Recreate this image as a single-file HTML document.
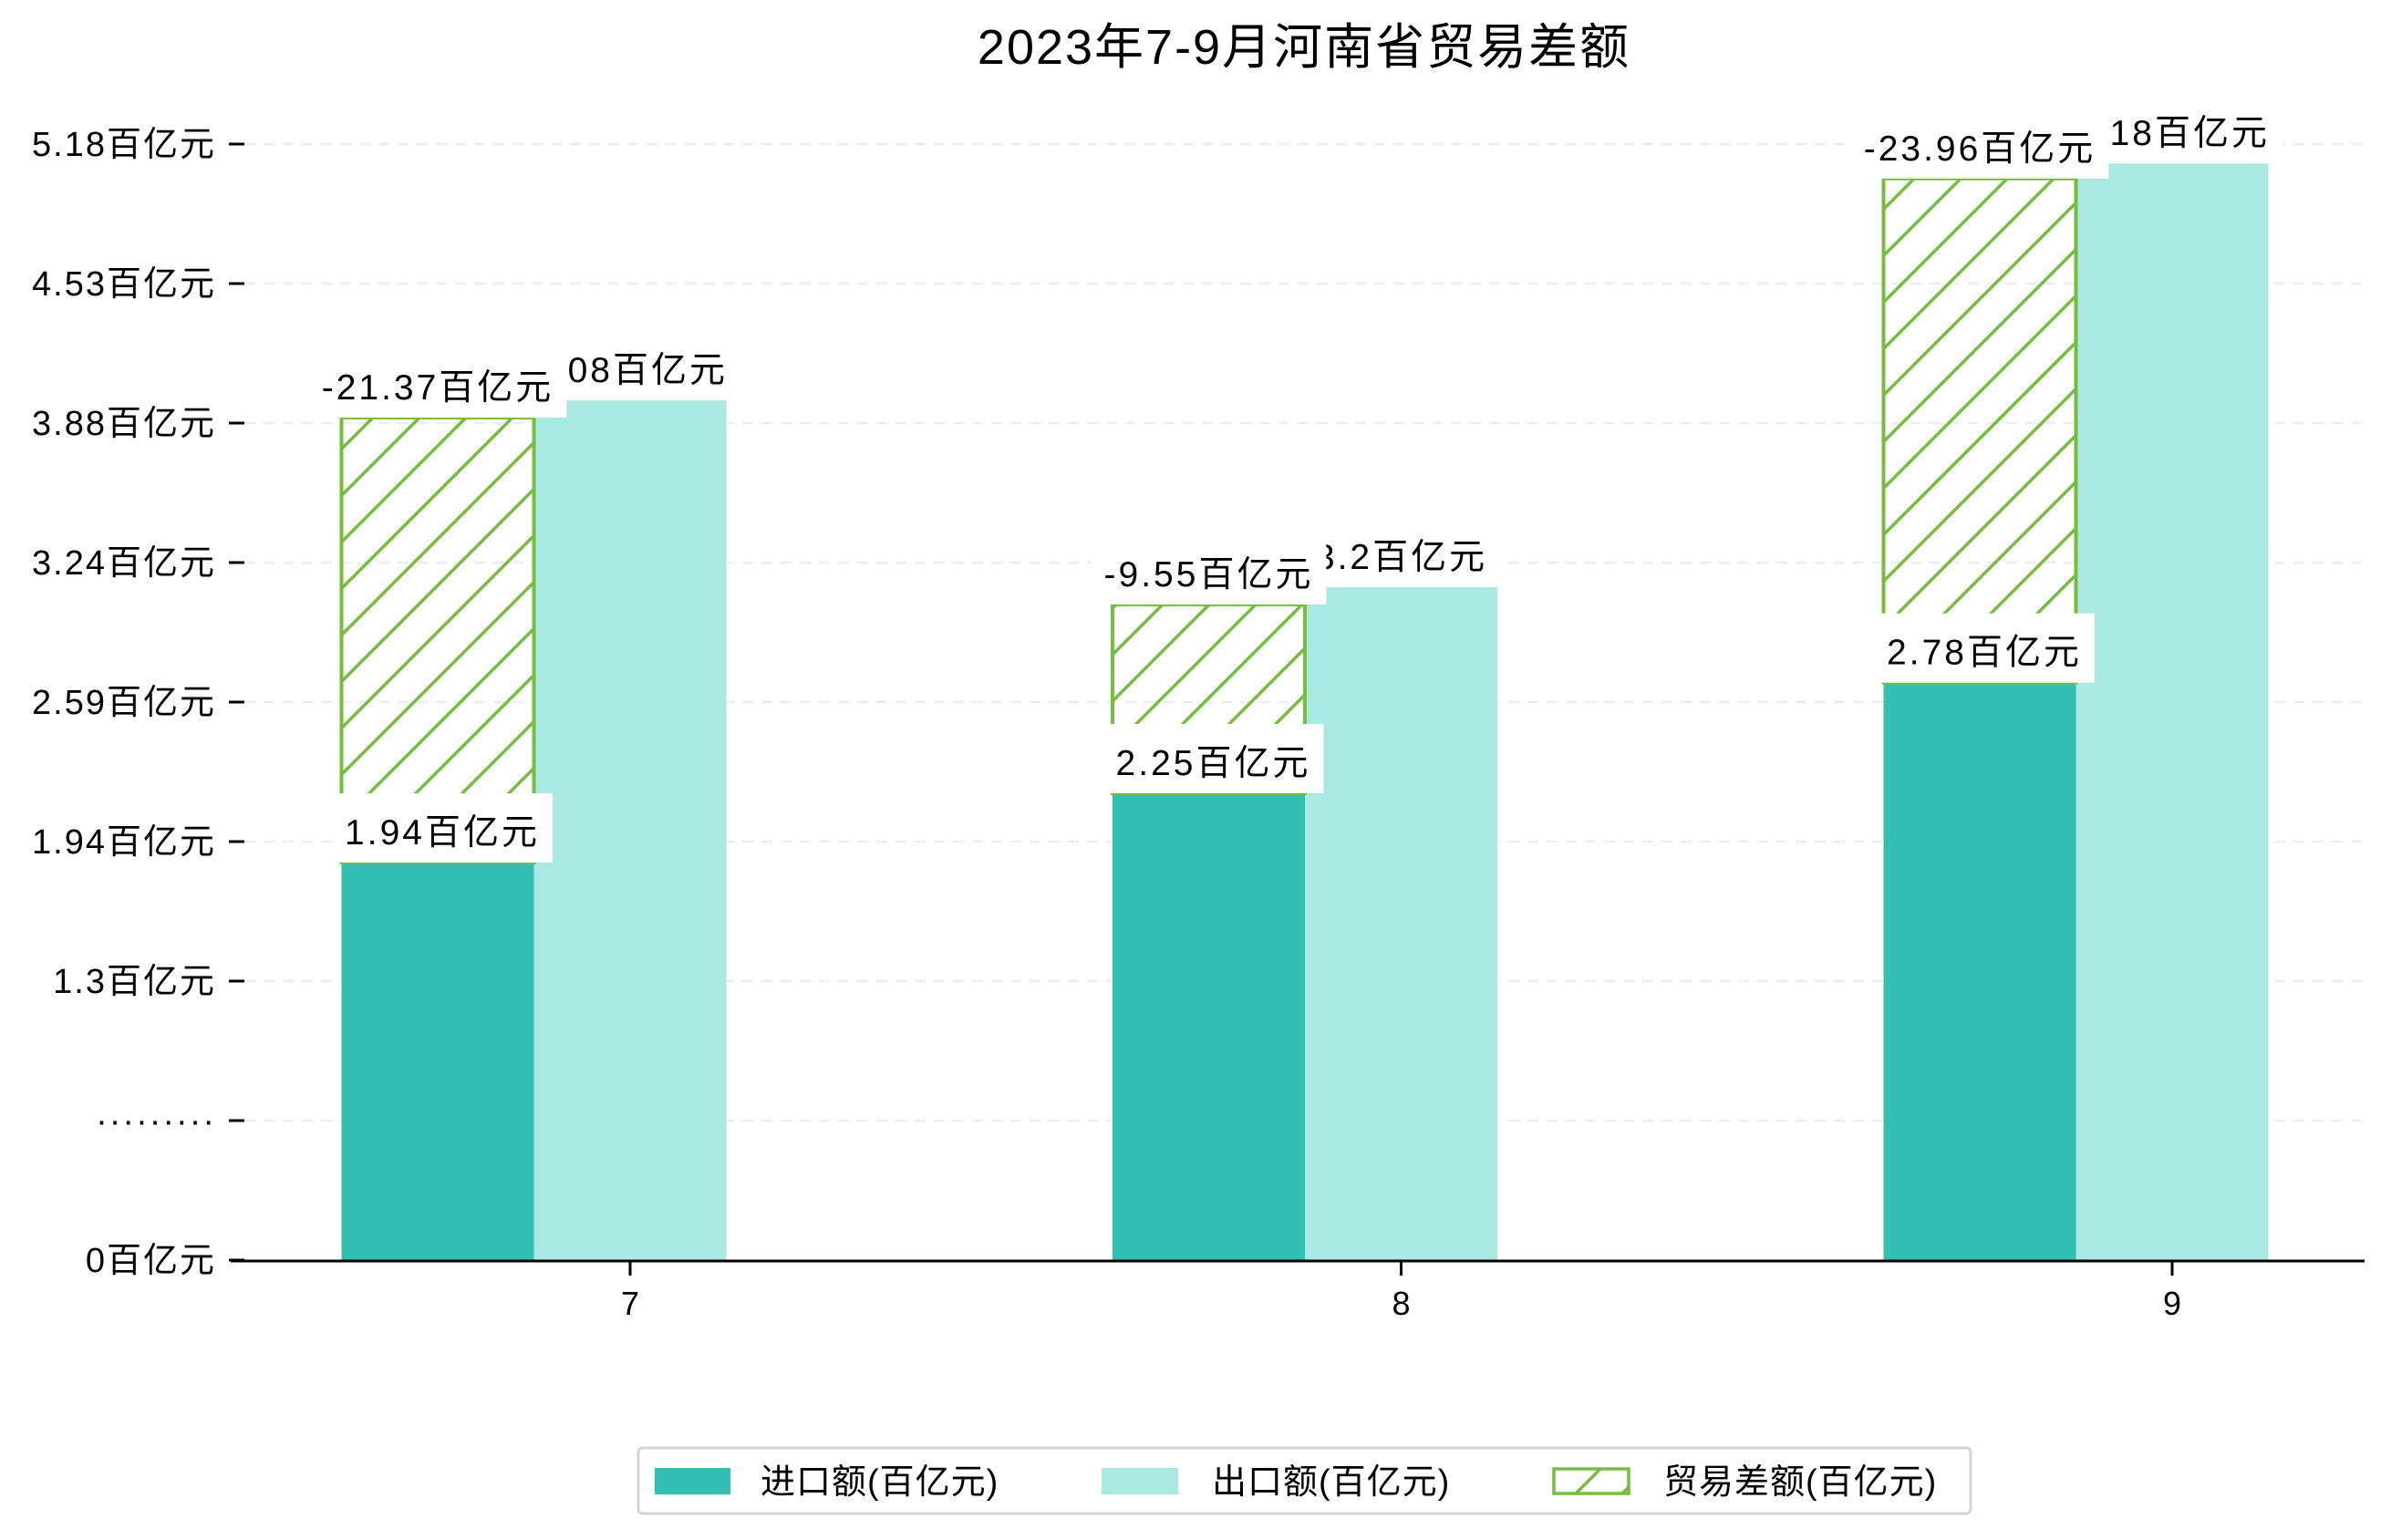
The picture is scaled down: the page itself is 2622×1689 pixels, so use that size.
<!DOCTYPE html>
<html><head><meta charset="utf-8">
<style>
html,body{margin:0;padding:0;background:#fff;}
svg{display:block;font-family:"Liberation Sans","Noto Sans CJK SC",sans-serif;}
</style></head>
<body>
<svg id="chart" width="2622" height="1689" viewBox="0 0 2622 1689" xmlns="http://www.w3.org/2000/svg">
<defs>
<pattern id="hatch" patternUnits="userSpaceOnUse" width="51" height="51">
<path d="M-12,63 L63,-12 M-12,12 L12,-12 M39,63 L63,39" stroke="#76bc3f" stroke-width="3.5" fill="none"/>
</pattern>
</defs>
<text x="1430" y="70" text-anchor="middle" font-size="54" letter-spacing="2" fill="#000">2023年7-9月河南省贸易差额</text>
<g id="grid"></g>
<g id="bars"></g>
<g id="labels"></g>
<g id="axes"></g>
<g>
<rect x="700" y="1588" width="1461" height="72" rx="5" fill="#fff" stroke="#d4d4d4" stroke-width="3"/>
<rect x="718" y="1610" width="83" height="29" fill="#31c0b3"/>
<text x="834" y="1638" font-size="38" letter-spacing="1">进口额(百亿元)</text>
<rect x="1208" y="1610" width="84" height="29" fill="#aae8e2"/>
<text x="1329" y="1638" font-size="38" letter-spacing="1">出口额(百亿元)</text>
<rect x="1704" y="1611" width="82" height="27" fill="url(#hatch)" stroke="#76bc3f" stroke-width="3.5"/>
<text x="1824" y="1638" font-size="38" letter-spacing="1">贸易差额(百亿元)</text>
</g>
</svg>
<script>
const categories = ['7', '8', '9'];
const importValues = [1.845, 2.167, 2.68];
const exportValues = [3.99, 3.123, 5.09];
const balanceTops = [3.91, 3.043, 5.02];
const importLabels = ['1.94百亿元', '2.25百亿元', '2.78百亿元'];
const exportLabels = ['4.08百亿元', '3.2百亿元', '5.18百亿元'];
const balanceLabels = ['-21.37百亿元', '-9.55百亿元', '-23.96百亿元'];
const tickValues = [0, 0.6475, 1.295, 1.9425, 2.59, 3.2375, 3.885, 4.5325, 5.18];
const tickLabels = ['0百亿元', '·········', '1.3百亿元', '1.94百亿元', '2.59百亿元', '3.24百亿元', '3.88百亿元', '4.53百亿元', '5.18百亿元'];

const NS = 'http://www.w3.org/2000/svg';
const Y0 = 1382, PPU = 236.3, X_LEFT = 253, X_RIGHT = 2593;
const BW = 211;
function yScale(v){ return Y0 - v * PPU; }
function xScale(i){ return 691 + i * 845.5; }
function mk(tag, attrs, parent){
  const e = document.createElementNS(NS, tag);
  for (const k in attrs) e.setAttribute(k, attrs[k]);
  parent.appendChild(e);
  return e;
}
const grid = document.getElementById('grid');
const bars = document.getElementById('bars');
const labels = document.getElementById('labels');
const axes = document.getElementById('axes');

tickValues.forEach((v, i) => {
  const y = yScale(v);
  if (i > 0) {
    const g = mk('line', {x1: 268, x2: X_RIGHT, y1: y, y2: y, stroke: '#e6e6e6', 'stroke-width': 2.5, 'stroke-dasharray': '12,9', opacity: 0.7}, grid);
    
    
  }
  const t = mk('line', {x1: 251, x2: 268, y1: y, y2: y, stroke: '#000', 'stroke-width': 3}, axes);
  
  
  const lb = mk('text', {x: 237, y: y + 13, 'text-anchor': 'end', 'font-size': 38, 'letter-spacing': 2}, axes);
  lb.textContent = tickLabels[i];
  
  
});

const ax = mk('line', {x1: X_LEFT, x2: X_RIGHT, y1: Y0 + 1, y2: Y0 + 1, stroke: '#000', 'stroke-width': 3}, axes);



function addLabel(text, cx, bottom, name){
  const t = mk('text', {x: cx, y: bottom - 20, 'text-anchor': 'middle', 'font-size': 39, 'letter-spacing': 3, fill: '#000'}, labels);
  t.textContent = text;
  const bb = t.getBBox();
  const r = document.createElementNS(NS, 'rect');
  r.setAttribute('x', bb.x - 14); r.setAttribute('y', bottom - 76);
  r.setAttribute('width', bb.width + 28); r.setAttribute('height', 76);
  r.setAttribute('fill', '#fff');
  labels.insertBefore(r, t);
  
  
  
  
}

categories.forEach((c, i) => {
  const cx = xScale(i);
  const ix = cx - 1.5 * BW, ex = cx - 0.5 * BW;
  const ib = mk('rect', {x: ix, y: yScale(importValues[i]), width: BW, height: Y0 - yScale(importValues[i]), fill: '#31c0b3'}, bars);
  
  
  const eb = mk('rect', {x: ex, y: yScale(exportValues[i]), width: BW, height: Y0 - yScale(exportValues[i]), fill: '#aae8e2'}, bars);
  
  
  const hb = mk('rect', {x: ix, y: yScale(balanceTops[i]), width: BW, height: yScale(importValues[i]) - yScale(balanceTops[i]), fill: 'url(#hatch)', stroke: '#76bc3f', 'stroke-width': 4}, bars);
  
  

  const xt = mk('line', {x1: cx, x2: cx, y1: Y0, y2: Y0 + 17, stroke: '#000', 'stroke-width': 3}, axes);
  
  
  const xl = mk('text', {x: cx, y: Y0 + 60, 'text-anchor': 'middle', 'font-size': 36}, axes);
  xl.textContent = c;
  
  
});
categories.forEach((c, i) => {
  const cx = xScale(i);
  addLabel(exportLabels[i], cx, yScale(exportValues[i]), 'export-value-label');
});
categories.forEach((c, i) => {
  const cx = xScale(i);
  addLabel(balanceLabels[i], cx - BW, yScale(balanceTops[i]), 'balance-value-label');
  addLabel(importLabels[i], cx - BW + 5, yScale(importValues[i]), 'import-value-label');
});
</script>
</body></html>
